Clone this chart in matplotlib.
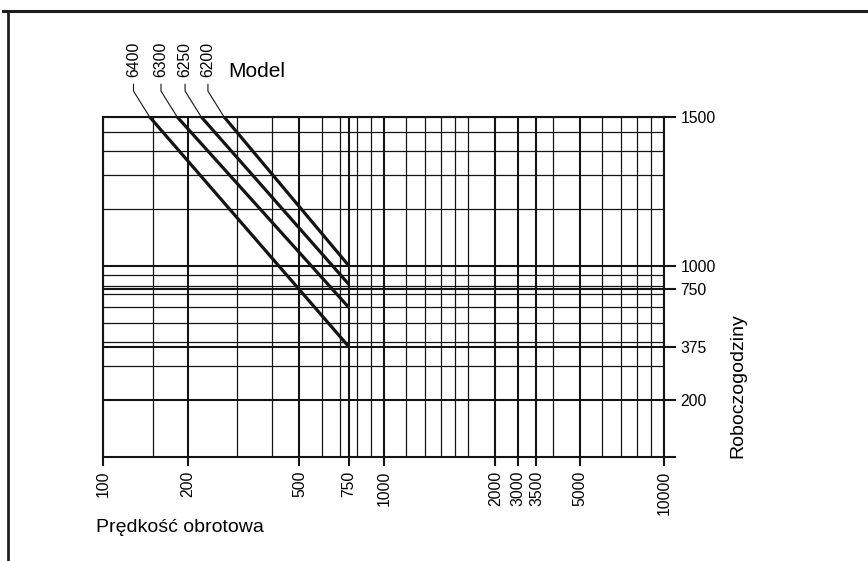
import numpy as np
import matplotlib
matplotlib.use('Agg')
import matplotlib.pyplot as plt
from matplotlib.lines import Line2D

plt.rcParams['font.family'] = ['Liberation Sans', 'DejaVu Sans']

# ---------------- data ----------------
models = ['6400', '6300', '6250', '6200']
rpm_at_1500h = [146, 183, 223, 269]          # speed where each model line meets 1500 h
rpm_end = [750, 750, 750, 750]               # speed where each model line ends
hours_at_end = [375, 630, 800, 1000]         # hours at the line end

x_major_ticks = [100, 200, 500, 750, 1000, 2500, 3000, 3500, 5000, 10000]
x_major_labels = ['100', '200', '500', '750', '1000', '2000', '3000', '3500', '5000', '10000']
x_minor_grid = [150, 300, 400, 600, 700, 800, 900, 1200, 1400, 1600, 1800,
                2000, 4000, 6000, 7000, 8000, 9000]

y_major_ticks = [200, 375, 750, 1000, 1500]
y_major_labels = ['200', '375', '750', '1000', '1500']
y_minor_grid = [313, 405, 527, 630, 715, 785, 900, 1190, 1305, 1385, 1450]

# piecewise vertical scale of the printed chart (hours -> relative height)
scale_hours = [0, 200, 375, 750, 1000, 1500]
scale_pos = [0, 57.3, 110.6, 168.3, 191.6, 340.6]

W, H = 868, 561
fig = plt.figure(figsize=(W / 100, H / 100), dpi=100)
ax_l, ax_r, ax_t, ax_b = 103.4, 664.3, 116.7, 457.3
ax = fig.add_axes([ax_l / W, 1 - ax_b / H, (ax_r - ax_l) / W, (ax_b - ax_t) / H])

def fwd(v):
    return np.interp(v, scale_hours, scale_pos)

def inv(p):
    return np.interp(p, scale_pos, scale_hours)

ax.set_xscale('log')
ax.set_yscale('function', functions=(fwd, inv))
ax.set_xlim(100, 10000)
ax.set_ylim(0, 1500)

ink = '#141414'
major_lw = 1.5
minor_lw = 0.9
small_fs = 11.3

for x in x_minor_grid:
    ax.axvline(x, color=ink, lw=minor_lw, zorder=1)
for x in x_major_ticks:
    ax.axvline(x, color=ink, lw=major_lw, zorder=1)
for y in y_minor_grid:
    ax.axhline(y, color=ink, lw=minor_lw, zorder=1)
for y in y_major_ticks:
    ax.axhline(y, color=ink, lw=major_lw, zorder=1)

for s in ax.spines.values():
    s.set_linewidth(major_lw)
    s.set_color(ink)

ax.set_xticks(x_major_ticks)
ax.set_xticklabels(x_major_labels, rotation=90, fontsize=small_fs)
ax.xaxis.set_minor_locator(matplotlib.ticker.NullLocator())
ax.tick_params(axis='x', which='major', direction='out', length=6.5, width=major_lw,
               pad=3, colors=ink, labelcolor='black')

ax.yaxis.tick_right()
ax.set_yticks([0] + y_major_ticks)
ax.set_yticklabels([''] + y_major_labels, fontsize=small_fs)
ax.yaxis.set_minor_locator(matplotlib.ticker.NullLocator())
ax.tick_params(axis='y', which='major', direction='out', length=8.6, width=major_lw,
               pad=3, colors=ink, labelcolor='black')

for name, r0, r1, h1 in zip(models, rpm_at_1500h, rpm_end, hours_at_end):
    ax.plot([r0, r1], [1500, h1], color=ink, lw=2.3, solid_capstyle='butt', zorder=3)
    ax.annotate(name, xy=(r0, 1500), xytext=(-16 * 0.72, 39.5 * 0.72),
                textcoords='offset points', rotation=90, ha='center', va='bottom',
                fontsize=small_fs, annotation_clip=False,
                arrowprops=dict(arrowstyle='-', color=ink, lw=0.8, shrinkA=3, shrinkB=0,
                                relpos=(0.5, 0),
                                connectionstyle='angle,angleA=90,angleB=122,rad=0'))

fig.text(228 / W, 1 - 77 / H, 'Model', fontsize=15, ha='left', va='baseline')
fig.text(96 / W, 1 - 532 / H, 'Prędkość obrotowa', fontsize=14, ha='left', va='baseline')
fig.text(737.5 / W, 1 - 458 / H, 'Roboczogodziny', fontsize=14, rotation=90,
         ha='center', va='bottom')

# page frame
fig.add_artist(Line2D([3 / W, 1], [1 - 11 / H] * 2, transform=fig.transFigure,
                      color='#1e1e1e', lw=2.2))
fig.add_artist(Line2D([7.5 / W] * 2, [1 - 11 / H, 0], transform=fig.transFigure,
                      color='#1e1e1e', lw=2.0))

fig.savefig('out.png', dpi=100)
